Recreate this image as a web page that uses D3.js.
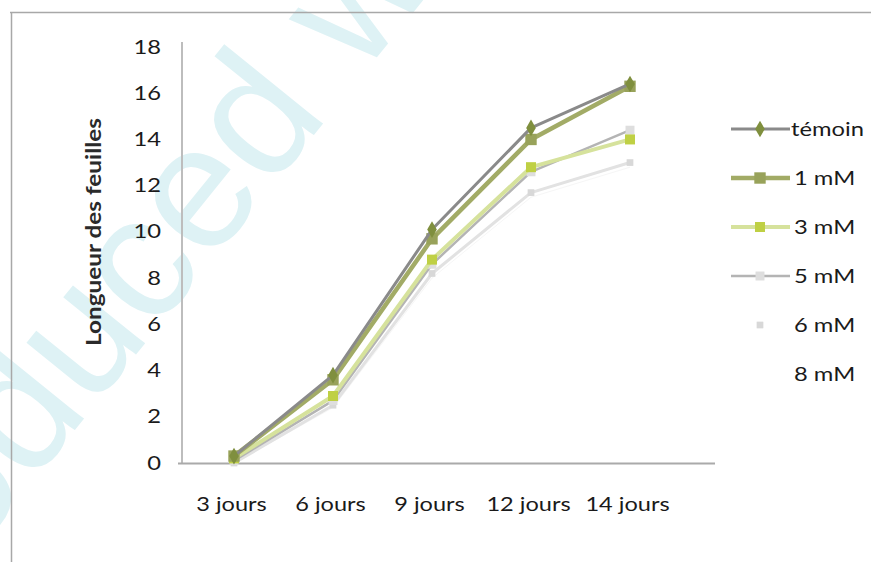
<!DOCTYPE html>
<html><head><meta charset="utf-8">
<script src="https://cdn.jsdelivr.net/npm/d3@7"></script>
<style>body{margin:0;background:#fff}svg{display:block}</style>
</head><body>
<svg id="c" width="871" height="562"></svg>
<script>
const categories = ["3 jours","6 jours","9 jours","12 jours","14 jours"];
const yTicks = [0,2,4,6,8,10,12,14,16,18];
const seriesNames = ["témoin","1 mM","3 mM","5 mM","6 mM","8 mM"];
const temoin = [0.3, 3.8, 10.1, 14.5, 16.4];
const mM1 = [0.3, 3.6, 9.7, 14.0, 16.3];
const mM3 = [0.2, 2.9, 8.8, 12.8, 14.0];
const mM5 = [0.1, 2.7, 8.6, 12.6, 14.4];
const mM6 = [0.0, 2.5, 8.2, 11.7, 13.0];
const mM8 = [0.0, 2.4, 8.0, 11.5, 12.8];
const yLabel = "Longueur des feuilles";
const watermark = "Reproduced with permission";

const styles = [
  {line:"#8a8a8a", w:3, marker:"diamond", mfill:"#7f8f3e", msize:80, legendLine:true},
  {line:"#a2ab66", w:4.5, marker:"square", mfill:"#98a25a", msize:130, legendLine:true},
  {line:"#d6e29c", w:4, marker:"square", mfill:"#bfd044", msize:100, legendLine:true},
  {line:"#b4b4b4", w:2.5, marker:"square", mfill:"#dedede", msize:80, legendLine:true},
  {line:"#e2e2e2", w:3, marker:"square", mfill:"#d8d8d8", msize:45, legendLine:false},
  {line:"#f6f6f6", w:1, marker:null, mfill:null, msize:0, legendLine:false}
];
const allSeries = [temoin, mM1, mM3, mM5, mM6, mM8];

const svg = d3.select("#c");
const font = "Lato, 'Open Sans', sans-serif";
function stretch(sel, k) {
  sel.each(function(){
    const L = this.getComputedTextLength();
    d3.select(this).attr("textLength", L*k).attr("lengthAdjust","spacingAndGlyphs");
  });
}

// watermark
const wg = svg.append("g").attr("transform","translate(122,372) rotate(-51)");
const wt = wg.append("text").text(watermark)
  .attr("font-family","Liberation Sans, Arial, sans-serif")
  .attr("font-size",175).attr("fill","#def2f5");
const off = wt.node().getSubStringLength(0,6) + wt.node().getSubStringLength(6,1)/2;
wt.attr("x",-off);

// frame
svg.append("line").attr("x1",10).attr("x2",871).attr("y1",12.5).attr("y2",12.5)
  .attr("stroke","#a8a8a8").attr("stroke-width",1.5);
svg.append("line").attr("x1",11.5).attr("x2",11.5).attr("y1",12).attr("y2",562)
  .attr("stroke","#a8a8a8").attr("stroke-width",1.5);

const x = d3.scalePoint().domain(categories).range([234, 630]);
const y = d3.scaleLinear().domain([0,18]).range([463, 47]);

// axes
const yAxis = d3.axisLeft(y).tickValues(yTicks).tickSize(0).tickPadding(0);
const gy = svg.append("g").attr("transform","translate(161,0)").call(yAxis);
gy.select(".domain").remove();
gy.selectAll("text").attr("font-family",font).attr("font-size",19).attr("fill","#1a1a1a");
stretch(gy.selectAll("text"), 1.25);

svg.append("line").attr("x1",182).attr("x2",182).attr("y1",42).attr("y2",464)
  .attr("stroke","#bdbdbd").attr("stroke-width",2);

const xAxis = d3.axisBottom(x).tickSize(0).tickPadding(0);
const gx = svg.append("g").attr("transform","translate(-3,505)").call(xAxis);
gx.select(".domain").remove();
gx.selectAll("text").attr("font-family",font).attr("font-size",19).attr("fill","#1a1a1a")
  .attr("dy","0.32em");
stretch(gx.selectAll("text"), 1.24);

svg.append("line").attr("x1",178).attr("x2",715).attr("y1",463.5).attr("y2",463.5)
  .attr("stroke","#aaaaaa").attr("stroke-width",2);

svg.append("text").attr("transform","translate(101,232) rotate(-90)")
  .attr("text-anchor","middle").attr("font-family",font).attr("font-size",20)
  .attr("font-weight","bold").attr("fill","#2a2a2a").text(yLabel)
  .attr("textLength",228).attr("lengthAdjust","spacingAndGlyphs");

// lines (draw from last to first so témoin is on top)
const lineGen = d3.line().x((d,i)=>x(categories[i])).y(d=>y(d));
for (let s = allSeries.length-1; s>=0; s--) {
  const st = styles[s];
  svg.append("path").datum(allSeries[s]).attr("d",lineGen)
    .attr("fill","none").attr("stroke",st.line).attr("stroke-width",st.w)
    .attr("stroke-linejoin","round");
  if (st.marker) {
    const sym = d3.symbol().type(st.marker==="diamond"?d3.symbolDiamond:d3.symbolSquare).size(st.msize);
    svg.append("g").selectAll("path").data(allSeries[s]).join("path")
      .attr("transform",(d,i)=>`translate(${x(categories[i])},${y(d)})`)
      .attr("d",sym).attr("fill",st.mfill);
  }
}

// legend
const leg = svg.append("g");
seriesNames.forEach((n,i)=>{
  const st = styles[i];
  const ly = 129 + i*49;
  if (st.legendLine) {
    leg.append("line").attr("x1",731).attr("x2",790).attr("y1",ly).attr("y2",ly)
      .attr("stroke",st.line).attr("stroke-width",st.w);
  }
  if (st.marker) {
    const sym = d3.symbol().type(st.marker==="diamond"?d3.symbolDiamond:d3.symbolSquare).size(st.msize);
    leg.append("path").attr("transform",`translate(760,${ly})`).attr("d",sym).attr("fill",st.mfill);
  }
  const t = leg.append("text").attr("x", i===0?791:794).attr("y",ly).attr("dy","0.35em")
    .attr("font-family",font).attr("font-size",19).attr("fill","#1a1a1a").text(n);
  stretch(t, 1.25);
});
</script>
</body></html>
